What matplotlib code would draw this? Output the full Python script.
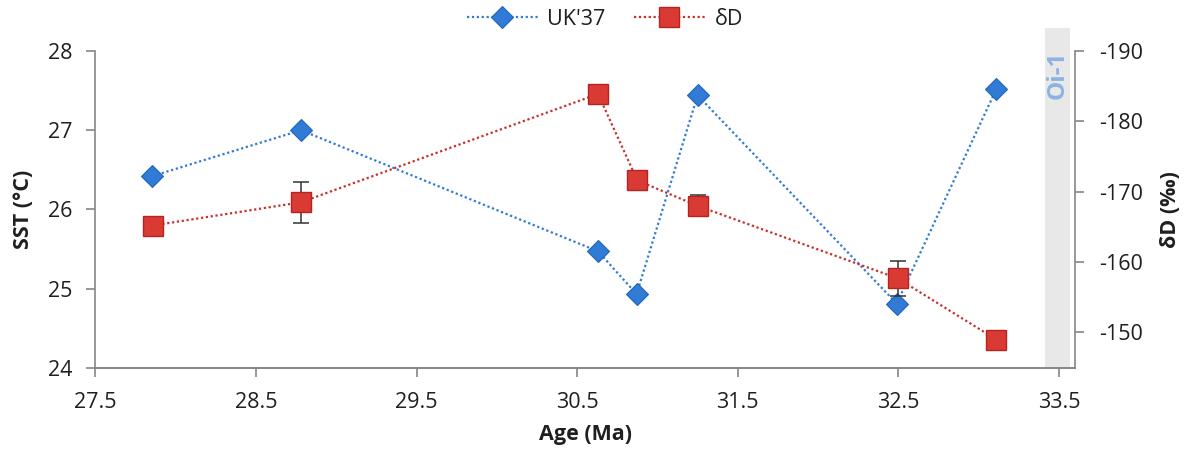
import numpy as np
import matplotlib
matplotlib.use("Agg")
import matplotlib.pyplot as plt

plt.rcParams['font.family'] = ['Open Sans', 'DejaVu Sans']
plt.rcParams['axes.unicode_minus'] = False

# Data
age_uk = [27.855, 28.78, 30.63, 30.87, 31.25, 32.49, 33.11]
sst_uk = [26.42, 27.0, 25.47, 24.93, 27.44, 24.81, 27.52]

age_dd = [27.857, 28.78, 30.63, 30.875, 31.25, 32.495, 33.11]
dd_val = [-165.2, -168.5, -183.9, -171.6, -168.0, -157.7, -149.0]
dd_err = [0, 2.9, 0, 0, 1.5, 2.5, 0]

oi1_span = (33.41, 33.57)

x_ticks = [27.5, 28.5, 29.5, 30.5, 31.5, 32.5, 33.5]
sst_ticks = [24, 25, 26, 27, 28]
dd_ticks = [-190, -180, -170, -160, -150]

# Style
blue = '#2f7bd6'
blue_edge = '#2566b8'
red = '#d93a33'
red_edge = '#b5241f'
spine_c = '#868686'
text_c = '#1f1f1f'
fs = 15.5

fig = plt.figure(figsize=(11.95, 4.55), dpi=100)
ax = fig.add_axes([0.0798, 0.1919, 0.8198, 0.6960])
ax2 = ax.twinx()

# Oi-1 band
ax.axvspan(*oi1_span, ymin=0, ymax=1.073, color='#e8e8e8', lw=0, clip_on=False, zorder=0)
ax.text(sum(oi1_span) / 2, 28.0, 'Oi-1', rotation=90, ha='center', va='top',
        color='#8db3e2', fontsize=17.5, fontweight='bold', zorder=1)

ln1, = ax.plot(age_uk, sst_uk, linestyle=(0, (1, 1.2)), lw=1.6, color=blue,
               marker='D', ms=11, mfc=blue, mec=blue_edge, mew=0.8,
               label="UK'37", zorder=3)

ax2.errorbar(age_dd, dd_val, yerr=dd_err, fmt='none', ecolor='#333333',
             elinewidth=1.1, capsize=5.5, capthick=1.1, zorder=2)
ln2, = ax2.plot(age_dd, dd_val, linestyle=(0, (1, 1.2)), lw=1.6, color='#c8302b',
                marker='s', ms=14.5, mfc=red, mec=red_edge, mew=1.0,
                label='δD', zorder=3)

ax.set_xlim(27.5, 33.6)
ax.set_ylim(24, 28)
ax2.set_ylim(-145, -190)
ax.set_xticks(x_ticks)
ax.set_xticklabels([f'{v:.1f}' for v in x_ticks])
ax.set_yticks(sst_ticks)
ax2.set_yticks(dd_ticks)

for a in (ax, ax2):
    for s in a.spines.values():
        s.set_color(spine_c)
        s.set_linewidth(1.2)
    a.spines['top'].set_visible(False)
    a.tick_params(colors=spine_c, labelcolor=text_c, labelsize=fs, length=6.5, width=1.2)
ax.spines['right'].set_visible(False)
ax2.spines['left'].set_visible(False)
ax.tick_params(axis='y', pad=10)
ax.tick_params(axis='x', pad=11)
ax2.tick_params(axis='y', pad=11)

ax.set_xlabel('Age (Ma)', fontsize=fs, fontweight='bold', color=text_c, labelpad=8)
ax.set_ylabel('SST (°C)', fontsize=fs, fontweight='bold', color=text_c, labelpad=10)
ax2.set_ylabel('δD (‰)', fontsize=fs, fontweight='bold', color=text_c, labelpad=12)

fig.legend(handles=[ln1, ln2], loc='center', bbox_to_anchor=(0.506, 0.958), ncol=2,
           frameon=False, fontsize=fs, handlelength=3.3, handletextpad=0.45,
           columnspacing=1.3, labelcolor=text_c)

fig.savefig('out.png', dpi=100)
